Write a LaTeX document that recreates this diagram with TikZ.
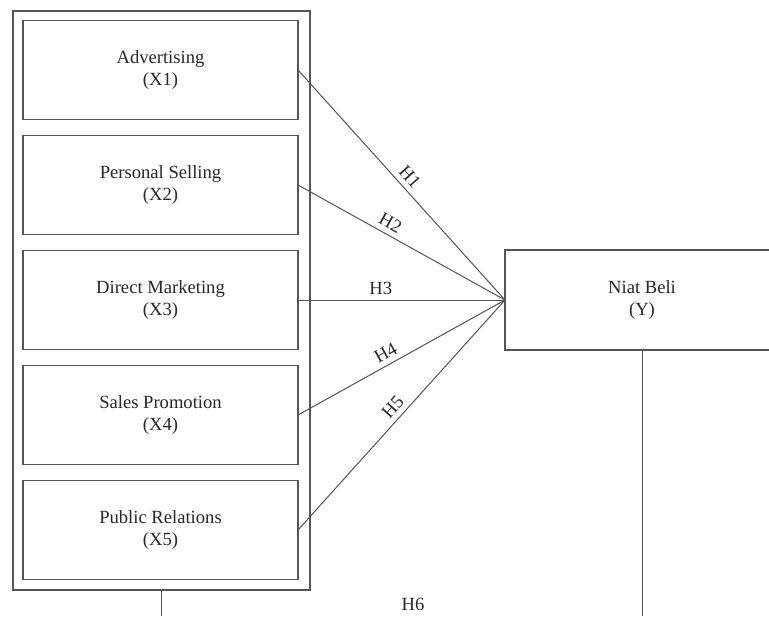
\documentclass[tikz,border=0pt]{standalone}
\usepackage{fontspec}
\setmainfont{Liberation Serif}
\usetikzlibrary{positioning}
\definecolor{lnGray}{RGB}{85,85,85}
\definecolor{txGray}{RGB}{40,40,40}
\tikzset{
    base/.style={font=\fontsize{9.3}{11}\selectfont, align=center, text=txGray},
    varbox/.style={base, rectangle, draw=lnGray, line width=0.7pt, fill=white,
                   minimum width=137.5pt, minimum height=49.5pt, inner sep=0pt, outer sep=0pt},
    groupbox/.style={rectangle, draw=lnGray, line width=0.7pt,
                     minimum width=148.5pt, minimum height=289.5pt, inner sep=0pt, outer sep=0pt},
    link/.style={draw=lnGray, line width=0.5pt},
    hyp/.style={base, sloped, above, inner sep=2.5pt}
}
\begin{document}
\begin{tikzpicture}[x=0.5pt, y=-0.5pt]
  \useasboundingbox (0,0) rectangle (769,616);

  % Independent variables
  \node[groupbox] (grp) at (161.5,300.5) {};
  \node[varbox] (x1) at (160.5,70) {Advertising\\(X1)};
  \node[varbox, below=8pt of x1] (x2) {Personal Selling\\(X2)};
  \node[varbox, below=8pt of x2] (x3) {Direct Marketing\\(X3)};
  \node[varbox, below=8pt of x3] (x4) {Sales Promotion\\(X4)};
  \node[varbox, below=8pt of x4] (x5) {Public Relations\\(X5)};

  % Dependent variable
  \node[varbox, minimum width=137pt, minimum height=50pt] (y) at (642,300) {Niat Beli\\(Y)};

  % Hypotheses
  \draw[link] (x1.east) -- node[hyp, pos=0.50] {H1} (y.west);
  \draw[link] (x2.east) -- node[hyp, pos=0.42] {H2} (y.west);
  \draw[link] (x3.east) -- node[hyp, pos=0.40] {H3} (y.west);
  \draw[link] (x4.east) -- node[hyp, pos=0.45] {H4} (y.west);
  \draw[link] (x5.east) -- node[hyp, pos=0.50] {H5} (y.west);

  % Simultaneous effect
  \coordinate (grpend) at (161.5,616);
  \coordinate (yend) at (642,616);
  \draw[link] (grp.south) -- (grpend);
  \draw[link] (y.south) -- (yend);
  \node[base] (h6) at (413,604) {H6};
\end{tikzpicture}
\end{document}
